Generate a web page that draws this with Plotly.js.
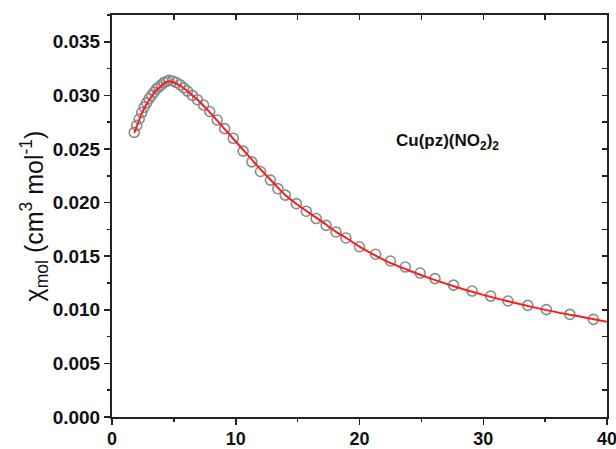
<!DOCTYPE html>
<html>
<head>
<meta charset="utf-8">
<script src="https://cdn.plot.ly/plotly-3.0.1.min.js"></script>
<style>html,body{margin:0;padding:0;background:#fff;}#chart{width:616px;height:449px;}</style>
</head>
<body>
<div id="chart"></div>
<script>
// Measured data (T in K, chi_mol in cm^3 mol^-1)
const tempData = [1.8, 2.0, 2.2, 2.4, 2.6, 2.8, 3.0, 3.2, 3.4, 3.6, 3.8, 4.0, 4.2, 4.4, 4.6,
  4.9, 5.2, 5.5, 5.8, 6.1, 6.5, 6.9, 7.4, 7.9, 8.5, 9.1, 9.8, 10.6, 11.3, 12.0, 12.8, 13.4,
  14.0, 14.9, 15.7, 16.5, 17.3, 18.1, 18.9, 20.0, 21.3, 22.5, 23.7, 24.9, 26.1, 27.6, 29.1,
  30.6, 32.0, 33.6, 35.1, 37.0, 38.9];
const chiData = [0.02655, 0.0272, 0.0278, 0.0284, 0.0289, 0.0293, 0.0297, 0.0300, 0.0303, 0.0306, 0.0308, 0.0310, 0.0312, 0.0313, 0.0314,
  0.03135, 0.0312, 0.0310, 0.0307, 0.0304, 0.0300, 0.0296, 0.0291, 0.0285, 0.0277, 0.0269, 0.0260, 0.0248, 0.0238, 0.0229, 0.0221, 0.0213,
  0.0207, 0.0199, 0.0192, 0.01851, 0.01788, 0.01726, 0.0167, 0.01588, 0.01518, 0.01455, 0.01399, 0.01343, 0.01291, 0.0123, 0.01175,
  0.01128, 0.01082, 0.01041, 0.01002, 0.00957, 0.00911];
// Fitted curve
const tempFit = [1.8, 2.0, 2.4, 2.8, 3.2, 3.6, 4.0, 4.4, 4.8, 5.2, 5.6, 6.0, 6.5, 7.0, 7.5, 8, 9, 10, 11, 12, 13,
  14, 15, 16, 17, 18, 19, 20, 22, 24, 26, 28, 30, 32, 34, 36, 38, 40];
const chiFit = [0.0265, 0.0271, 0.0283, 0.0292, 0.0299, 0.0305, 0.0309, 0.03125, 0.0313, 0.0311, 0.03085, 0.0305, 0.0300, 0.0295, 0.0289, 0.0283, 0.0270, 0.0257, 0.0244, 0.0231, 0.0219,
  0.0207, 0.0198, 0.0190, 0.0182, 0.01735, 0.01665, 0.0159, 0.01464, 0.01367, 0.01281, 0.01206, 0.01139, 0.01079, 0.01025, 0.00976, 0.00932, 0.00888];
const xTicks = [0, 10, 20, 30, 40];
const yTicks = [0, 0.005, 0.01, 0.015, 0.02, 0.025, 0.03, 0.035];
const yTickText = ['0.000', '0.005', '0.010', '0.015', '0.020', '0.025', '0.030', '0.035'];
const compoundLabel = 'Cu(pz)(NO<sub>2</sub>)<sub>2</sub>';

const axisColor = '#222';
const fam = '"Liberation Sans", Arial, sans-serif';

const traces = [
  {x: tempData, y: chiData, type: 'scatter', mode: 'markers',
   marker: {symbol: 'circle-open', size: 10, color: '#8a8a8a', line: {width: 1.6, color: '#8a8a8a'}},
   showlegend: false},
  {x: tempFit, y: chiFit, type: 'scatter', mode: 'lines', line: {color: '#ff1a1a', width: 2, shape: 'spline'},
   showlegend: false},
  {x: [0], y: [0], xaxis: 'x2', yaxis: 'y2', mode: 'markers', marker: {opacity: 0}, showlegend: false, hoverinfo: 'skip'}
];

const layout = {
  width: 616, height: 449,
  margin: {l: 112, r: 9, t: 15, b: 32},
  paper_bgcolor: '#fff', plot_bgcolor: '#fff',
  font: {family: fam, size: 14, color: '#111'},
  xaxis: {range: [0, 40], tickvals: xTicks, ticktext: xTicks.map(String), ticks: 'outside', ticklen: 6, tickwidth: 1.5, tickcolor: axisColor,
    minor: {dtick: 5, ticks: 'outside', ticklen: 3, tickwidth: 1.5, tickcolor: axisColor},
    showline: true, linecolor: axisColor, linewidth: 2, showgrid: false, zeroline: false,
    ticklabeloverflow: 'allow', ticklabelstandoff: -2,
    tickfont: {family: fam, size: 18, color: '#111', weight: 'bold'}},
  yaxis: {range: [0, 0.0375], tickvals: yTicks, ticktext: yTickText, ticks: 'outside', ticklen: 6, tickwidth: 1.5, tickcolor: axisColor,
    minor: {dtick: 0.0025, ticks: 'outside', ticklen: 3, tickwidth: 1.5, tickcolor: axisColor},
    showline: true, linecolor: axisColor, linewidth: 2, showgrid: false, zeroline: false,
    tickfont: {family: fam, size: 19, color: '#111', weight: 'bold'},
    title: {text: 'χ<sub>mol</sub> (cm<sup>3</sup> mol<sup>-1</sup>)', font: {family: fam, size: 25, color: '#111'}, standoff: 2}},
  xaxis2: {overlaying: 'x', side: 'top', range: [0, 40], dtick: 5, tick0: 0, ticks: 'inside', ticklen: 5, tickwidth: 1.5, tickcolor: axisColor,
    showticklabels: false, showline: true, linecolor: axisColor, linewidth: 2, showgrid: false, zeroline: false},
  yaxis2: {overlaying: 'y', side: 'right', range: [0, 0.0375], dtick: 0.0025, tick0: 0, ticks: 'inside', ticklen: 5, tickwidth: 1.5, tickcolor: axisColor,
    showticklabels: false, showline: true, linecolor: axisColor, linewidth: 2, showgrid: false, zeroline: false},
  annotations: [{x: 27.1, y: 0.0257, xref: 'x', yref: 'y', text: compoundLabel, showarrow: false,
    font: {family: fam, size: 17, color: '#111', weight: 'bold'}}]
};

Plotly.newPlot('chart', traces, layout, {staticPlot: true, displayModeBar: false});
</script>
</body>
</html>
